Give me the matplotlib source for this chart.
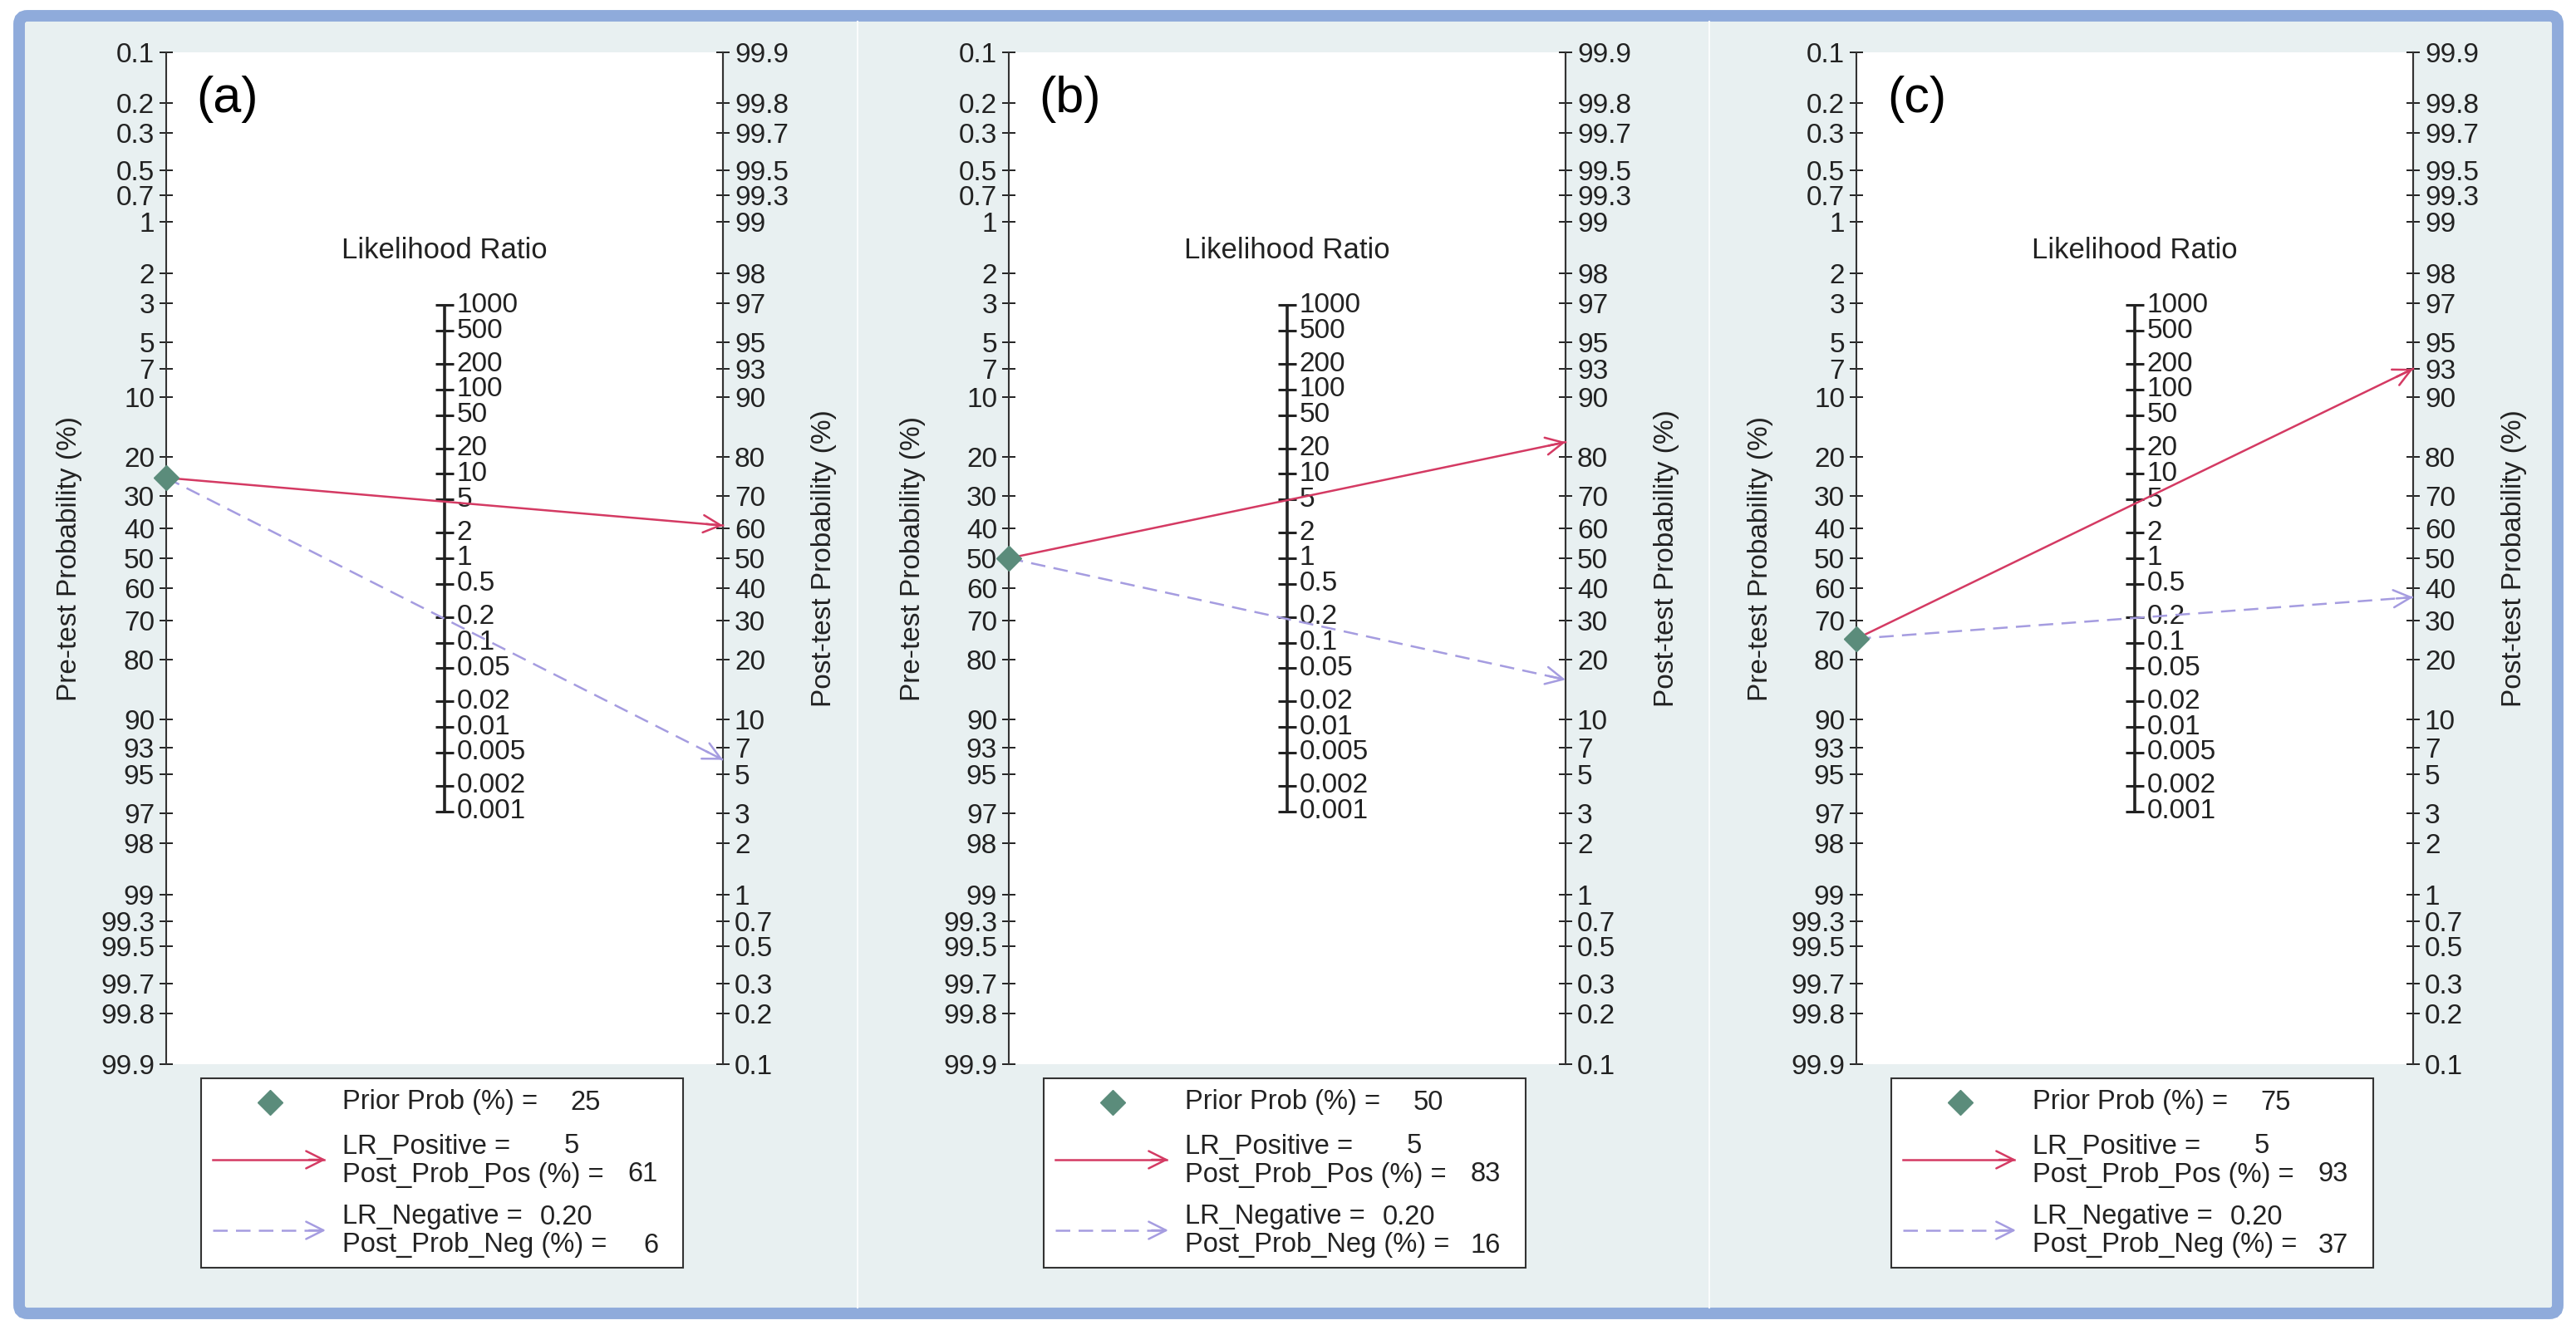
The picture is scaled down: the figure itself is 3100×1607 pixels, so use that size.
import numpy as np
import matplotlib.pyplot as plt
from matplotlib.patches import FancyBboxPatch, Rectangle

plt.rcParams['font.family'] = ['Liberation Sans', 'DejaVu Sans']

# -------------------------
# Data
# -------------------------
panel_tags = ['(a)', '(b)', '(c)']
prior_prob = [25, 50, 75]
lr_positive = [5, 5, 5]
lr_negative = [0.20, 0.20, 0.20]
post_prob_pos = [61, 83, 93]
post_prob_neg = [6, 16, 37]

prob_ticks = [0.1, 0.2, 0.3, 0.5, 0.7, 1, 2, 3, 5, 7, 10, 20, 30, 40, 50,
              60, 70, 80, 90, 93, 95, 97, 98, 99, 99.3, 99.5, 99.7, 99.8, 99.9]
lr_ticks = [1000, 500, 200, 100, 50, 20, 10, 5, 2, 1, 0.5, 0.2, 0.1,
            0.05, 0.02, 0.01, 0.005, 0.002, 0.001]

# colours
BG = '#e8f0f1'
BORDER = '#8fabdb'
RED = '#d43a63'
LAV = '#a59ce0'
DIAM = '#5b8c7b'
INK = '#222222'


def logit(p):
    p = np.asarray(p, dtype=float) / 100.0
    return np.log(p / (1 - p))


W, H = 3100, 1607
axis_left = [200, 1214, 2234]
panel_w = 670
top, bottom = 63, 1281
lim = float(logit(99.9))

fig = plt.figure(figsize=(W / 100, H / 100), dpi=100)
fig.patch.set_facecolor('white')

# decoration layer in pixel coordinates
deco = fig.add_axes([0, 0, 1, 1])
deco.set_xlim(0, W)
deco.set_ylim(H, 0)
deco.axis('off')
deco.set_zorder(-1)
deco.add_patch(FancyBboxPatch((23, 19), 3055, 1562,
                              boxstyle='round,pad=0,rounding_size=10',
                              facecolor=BG, edgecolor=BORDER, lw=10))
for xs in [1032, 2057]:
    deco.plot([xs, xs], [26, 1574], color='#fafcfc', lw=1.5)

for i in range(3):
    x0 = axis_left[i]
    ax = fig.add_axes([x0 / W, 1 - bottom / H, panel_w / W, (bottom - top) / H])
    ax.set_facecolor('white')
    ax.set_xlim(0, 1)
    ax.set_ylim(-lim, lim)
    for s in ['top', 'bottom']:
        ax.spines[s].set_visible(False)
    for s in ['left', 'right']:
        ax.spines[s].set_color('#333333')
        ax.spines[s].set_linewidth(1.5)
    ax.set_xticks([])

    # pre-test axis (left): low prob at top
    ax.set_yticks(-logit(prob_ticks))
    ax.set_yticklabels([f'{p:g}' for p in prob_ticks])
    ax.tick_params(axis='y', direction='inout', length=12, width=1.4,
                   colors=INK, labelsize=24, pad=4)
    ax.set_ylabel('Pre-test Probability (%)', fontsize=24, color=INK)
    ax.yaxis.set_label_coords(-0.150, 0.5)

    # post-test axis (right): high prob at top
    ax2 = ax.twinx()
    ax2.set_ylim(-lim, lim)
    for s in ['top', 'bottom', 'left']:
        ax2.spines[s].set_visible(False)
    ax2.spines['right'].set_color('#333333')
    ax2.spines['right'].set_linewidth(1.5)
    ax2.set_yticks(logit(prob_ticks))
    ax2.set_yticklabels([f'{p:g}' for p in prob_ticks])
    ax2.tick_params(axis='y', direction='inout', length=12, width=1.4,
                    colors=INK, labelsize=24, pad=4)
    ax2.set_ylabel('Post-test Probability (%)', fontsize=24, color=INK)
    ax2.yaxis.set_label_coords(1.158, 0.5)

    # likelihood ratio axis in the middle
    u_lr = np.log(lr_ticks) / 2
    ax2.plot([0.5, 0.5], [u_lr.max(), u_lr.min()], color=INK, lw=2.6,
             solid_capstyle='butt')
    ax2.plot(np.full(len(lr_ticks), 0.5), u_lr, linestyle='none', marker='_',
             markersize=16, mew=2.2, color=INK)
    for v, u in zip(lr_ticks, u_lr):
        ax2.text(0.522, u, f'{v:g}', ha='left', va='center', fontsize=24,
                 color=INK)
    ax2.text(0.5, 0.804, 'Likelihood Ratio', transform=ax2.transAxes,
             ha='center', va='center', fontsize=25, color=INK)
    ax2.text(0.109, 0.954, panel_tags[i], transform=ax2.transAxes,
             ha='center', va='center', fontsize=44, color='black')

    # nomogram lines
    u0 = -float(logit(prior_prob[i]))
    for post, col, ls in [(post_prob_pos[i], RED, '-'),
                          (post_prob_neg[i], LAV, (0, (7, 4)))]:
        u1 = float(logit(post))
        ax2.plot([0, 1], [u0, u1], color=col, lw=1.8, linestyle=ls,
                 clip_on=False, zorder=3)
        ax2.annotate('', xy=(1, u1), xytext=(0.97, u0 + (u1 - u0) * 0.97),
                     arrowprops=dict(arrowstyle='->,head_length=0.5,head_width=0.25',
                                     color=col, lw=1.8, mutation_scale=30,
                                     shrinkA=0, shrinkB=0),
                     annotation_clip=False, zorder=3)
    ax2.plot([0], [u0], marker='D', markersize=15, color=DIAM,
             linestyle='none', clip_on=False, zorder=4)

    # legend box
    bx = x0 + 42
    deco.add_patch(Rectangle((bx, 1298), 580, 228, facecolor='white',
                             edgecolor='#333333', lw=1.5))
    deco.plot([bx + 83], [1327], marker='D', markersize=15, color=DIAM,
              linestyle='none')
    deco.plot([bx + 14, bx + 148], [1396, 1396], color=RED, lw=1.8)
    deco.annotate('', xy=(bx + 150, 1396), xytext=(bx + 130, 1396),
                  arrowprops=dict(arrowstyle='->,head_length=0.5,head_width=0.25',
                                  color=RED, lw=1.8, mutation_scale=30,
                                  shrinkA=0, shrinkB=0))
    deco.plot([bx + 14, bx + 148], [1481, 1481], color=LAV, lw=1.8,
              linestyle=(0, (7, 4)))
    deco.annotate('', xy=(bx + 150, 1481), xytext=(bx + 130, 1481),
                  arrowprops=dict(arrowstyle='->,head_length=0.5,head_width=0.25',
                                  color=LAV, lw=1.8, mutation_scale=30,
                                  shrinkA=0, shrinkB=0))
    rows = [('Prior Prob (%) =', f'{prior_prob[i]}', 1327, 481),
            ('LR_Positive =', f'{lr_positive[i]:g}', 1380, 455),
            ('Post_Prob_Pos (%) =', f'{post_prob_pos[i]}', 1414, 550),
            ('LR_Negative =', f'{lr_negative[i]:.2f}', 1465, 471),
            ('Post_Prob_Neg (%) =', f'{post_prob_neg[i]}', 1499, 550)]
    for lab, val, y, xe in rows:
        deco.text(bx + 170, y, lab, ha='left', va='center', fontsize=23.5,
                  color=INK)
        deco.text(bx + xe, y, val, ha='right', va='center', fontsize=23.5,
                  color=INK)

fig.savefig('out.png', dpi=100)
